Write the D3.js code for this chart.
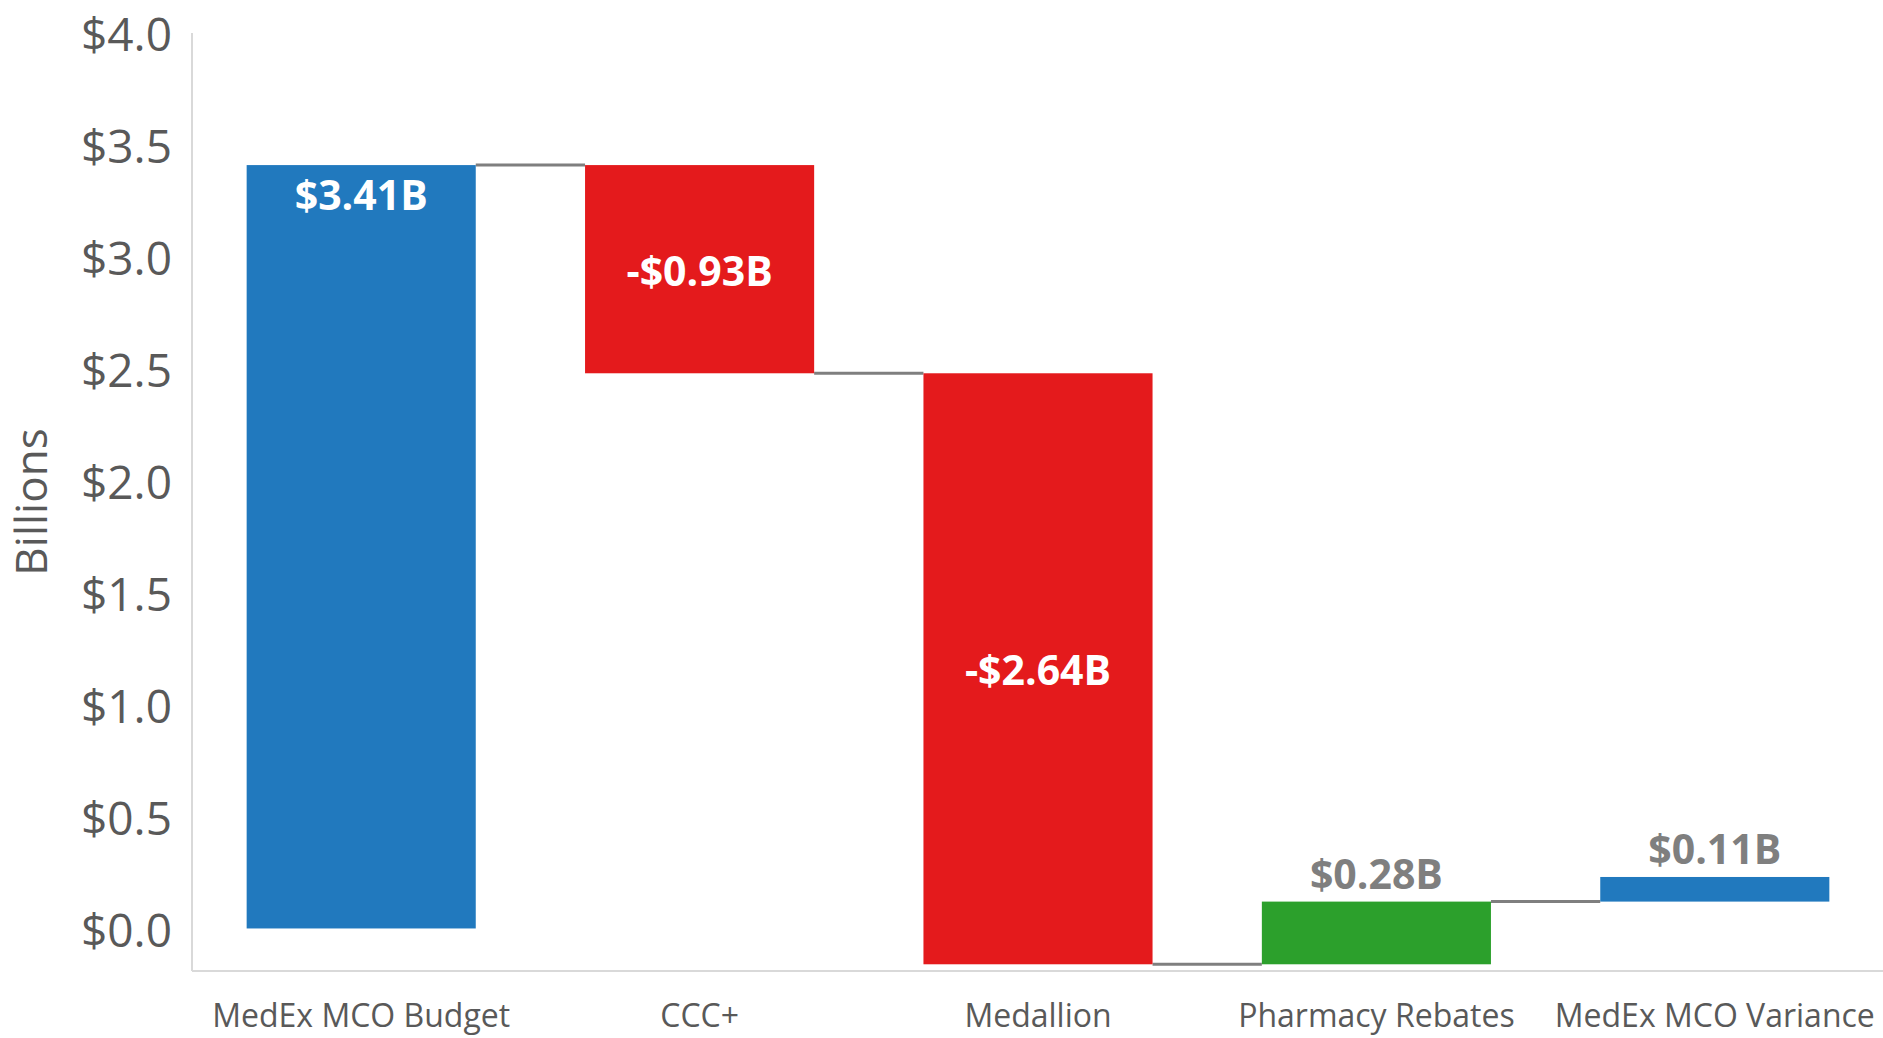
<!DOCTYPE html>
<html>
<head>
<meta charset="utf-8">
<script src="https://cdn.jsdelivr.net/npm/d3@7"></script>
<style>
  html, body { margin: 0; padding: 0; background: #fff; }
  svg { display: block; }
</style>
</head>
<body>
<svg id="chart" width="1883" height="1038"></svg>
<script>
// ---- data ----
const categories = ["MedEx MCO Budget", "CCC+", "Medallion", "Pharmacy Rebates", "MedEx MCO Variance"];
const values = [3.41, -0.93, -2.64, 0.28, 0.11];
const valueLabels = ["$3.41B", "-$0.93B", "-$2.64B", "$0.28B", "$0.11B"];
const barKinds = ["total", "decrease", "decrease", "increase", "total2"];
const labelPlacement = ["insideEnd", "center", "center", "outsideEnd", "outsideEnd"];
const yTicks = [0, 0.5, 1.0, 1.5, 2.0, 2.5, 3.0, 3.5, 4.0];
const yTickLabels = ["$0.0", "$0.5", "$1.0", "$1.5", "$2.0", "$2.5", "$3.0", "$3.5", "$4.0"];

const colors = { total: "#2179be", decrease: "#e41a1c", increase: "#2ca02c", total2: "#2179be" };
const labelColors = { insideEnd: "#ffffff", center: "#ffffff", outsideEnd: "#7f7f7f" };

(function () {
// running totals
let cum = 0;
const bars = categories.map((c, i) => {
  const start = cum;
  const end = cum + values[i];
  cum = end;
  return { cat: c, start, end, v: values[i], label: valueLabels[i], kind: barKinds[i], place: labelPlacement[i] };
});

const svg = d3.select("#chart");
const pLeft = 192, pRight = 1884, pTop = 33, pBottom = 971;

const x = d3.scaleBand().domain(categories).range([pLeft, pRight]).paddingInner(0.323).paddingOuter(0.1615);
const y = d3.scaleLinear().domain([-0.19, 4.0]).range([pBottom, pTop]);
const font = "'Open Sans', 'Noto Sans', sans-serif";

// axes lines
svg.append("line").attr("x1", pLeft).attr("x2", pLeft).attr("y1", pTop).attr("y2", pBottom)
  .attr("stroke", "#d9d9d9").attr("stroke-width", 2);
svg.append("line").attr("x1", pLeft).attr("x2", 1883).attr("y1", pBottom).attr("y2", pBottom)
  .attr("stroke", "#d9d9d9").attr("stroke-width", 2);

// y tick labels via axis
const yAxis = d3.axisLeft(y).tickValues(yTicks).tickFormat((d, i) => yTickLabels[i]).tickSize(0).tickPadding(20);
const gy = svg.append("g").attr("transform", `translate(${pLeft},3)`).call(yAxis);
gy.select(".domain").remove();
gy.selectAll("text").attr("font-family", font).attr("font-size", 46).attr("fill", "#595959");

// x tick labels via axis
const xAxis = d3.axisBottom(x).tickSize(0).tickPadding(33);
const gx = svg.append("g").attr("transform", `translate(0,${pBottom})`).call(xAxis);
gx.select(".domain").remove();
gx.selectAll("text").attr("font-family", font).attr("font-size", 32).attr("fill", "#595959");

// y title
svg.append("text")
  .attr("transform", `translate(47,${(pTop + pBottom) / 2}) rotate(-90)`)
  .attr("text-anchor", "middle")
  .attr("font-family", font).attr("font-size", 44).attr("fill", "#595959")
  .text("Billions");

// connectors
for (let i = 0; i < bars.length - 1; i++) {
  svg.append("line")
    .attr("x1", x(bars[i].cat) + x.bandwidth())
    .attr("x2", x(bars[i + 1].cat))
    .attr("y1", y(bars[i].end)).attr("y2", y(bars[i].end))
    .attr("stroke", "#7f7f7f").attr("stroke-width", 3);
}

// bars
svg.selectAll("rect.bar").data(bars).enter().append("rect")
  .attr("class", "bar")
  .attr("x", d => x(d.cat))
  .attr("width", x.bandwidth())
  .attr("y", d => y(Math.max(d.start, d.end)))
  .attr("height", d => Math.abs(y(d.start) - y(d.end)))
  .attr("fill", d => colors[d.kind]);

// value labels
svg.selectAll("text.vl").data(bars).enter().append("text")
  .attr("class", "vl")
  .attr("x", d => x(d.cat) + x.bandwidth() / 2)
  .attr("y", d => {
    const hi = y(Math.max(d.start, d.end)), lo = y(Math.min(d.start, d.end));
    if (d.place === "insideEnd") return hi + 31;
    if (d.place === "center") return (hi + lo) / 2 + 2;
    return hi - 27;
  })
  .attr("dy", "0.35em")
  .attr("text-anchor", "middle")
  .attr("font-family", font).attr("font-weight", "bold").attr("font-size", 41)
  .attr("fill", d => labelColors[d.place])
  .text(d => d.label);
})();
</script>
</body>
</html>
